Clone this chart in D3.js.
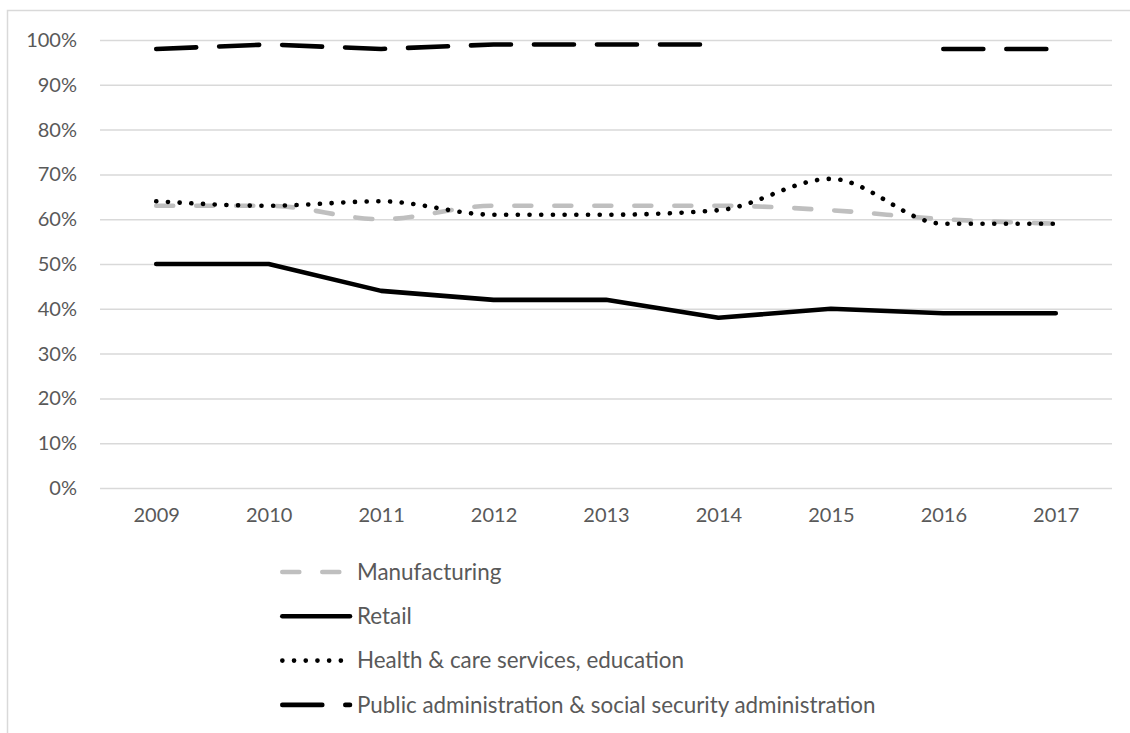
<!DOCTYPE html>
<html>
<head>
<meta charset="utf-8">
<script src="https://cdn.jsdelivr.net/npm/d3@7"></script>
<style>
  html, body { margin: 0; padding: 0; background: #ffffff; }
  svg { display: block; }
  text { font-family: Lato, "Noto Sans", sans-serif; fill: #595959; }
</style>
</head>
<body>
<svg id="chart" width="1130" height="733"></svg>
<script>
// Share of employees by sector, 2009–2017
const years = ["2009", "2010", "2011", "2012", "2013", "2014", "2015", "2016", "2017"];
const manufacturing = [63, 63, 60, 63, 63, 63, 62, 60, 59];
const retail = [50, 50, 44, 42, 42, 38, 40, 39, 39];
const health = [64, 63, 64, 61, 61, 62, 69, 59, 59];
const publicAdmin = [98, 99, 98, 99, 99, 99, null, 98, 98];
const yTicks = [0, 10, 20, 30, 40, 50, 60, 70, 80, 90, 100];
const seriesNames = [
  "Manufacturing",
  "Retail",
  "Health & care services, education",
  "Public administration & social security administration"
];

const svg = d3.select("#chart");

const plot = { left: 100, right: 1112, top: 40, bottom: 488 };

const x = d3.scalePoint().domain(years).range([plot.left, plot.right]).padding(0.5);
const y = d3.scaleLinear().domain([0, 100]).range([plot.bottom, plot.top]);

// outer chart-area frame
svg.append("rect")
  .attr("x", 7.5).attr("y", 10.5)
  .attr("width", 1300).attr("height", 900)
  .attr("fill", "none").attr("stroke", "#d9d9d9").attr("stroke-width", 1.5);

// y axis with gridlines
const yAxis = svg.append("g")
  .attr("transform", `translate(${plot.left},0)`)
  .call(d3.axisLeft(y).tickValues(yTicks).tickFormat(d => d + "%")
    .tickSize(-(plot.right - plot.left)).tickPadding(23));
yAxis.select(".domain").remove();
yAxis.selectAll(".tick line").attr("stroke", "#d9d9d9").attr("stroke-width", 1.5);
yAxis.selectAll(".tick text").attr("font-size", 20).style("fill", "#595959")
  .attr("font-family", "Lato, 'Noto Sans', sans-serif");

// x axis labels
const xAxis = svg.append("g")
  .attr("transform", `translate(0,${plot.bottom})`)
  .call(d3.axisBottom(x).tickSize(0).tickPadding(20));
xAxis.select(".domain").remove();
xAxis.selectAll(".tick text").attr("font-size", 20).style("fill", "#595959")
  .attr("font-family", "Lato, 'Noto Sans', sans-serif");

// series styling
const series = [
  { name: seriesNames[0], values: manufacturing, color: "#bfbfbf", dash: "17 23", curve: d3.curveMonotoneX },
  { name: seriesNames[1], values: retail, color: "#000000", dash: null, curve: d3.curveLinear },
  { name: seriesNames[2], values: health, color: "#000000", dash: "0.1 11.6", curve: d3.curveMonotoneX },
  { name: seriesNames[3], values: publicAdmin, color: "#000000", dash: "40 23", curve: d3.curveLinear }
];

const lineWidth = 4.6;

series.forEach(s => {
  const line = d3.line()
    .defined(d => d != null)
    .x((d, i) => x(years[i]))
    .y(d => y(d))
    .curve(s.curve);
  svg.append("path")
    .datum(s.values)
    .attr("d", line)
    .attr("fill", "none")
    .attr("stroke", s.color)
    .attr("stroke-width", lineWidth)
    .attr("stroke-linecap", "round")
    .attr("stroke-linejoin", "round")
    .attr("stroke-dasharray", s.dash);
});

// legend
const legend = svg.append("g");
series.forEach((s, i) => {
  const cy = 572 + i * 44.3;
  const g = legend.append("g").attr("transform", `translate(0,${cy})`);
  g.append("line")
    .attr("x1", 282.3).attr("x2", 350)
    .attr("y1", 0).attr("y2", 0)
    .attr("stroke", s.color)
    .attr("stroke-width", lineWidth)
    .attr("stroke-linecap", "round")
    .attr("stroke-dasharray", s.dash);
  g.append("text")
    .attr("x", 357)
    .attr("y", 0)
    .attr("dy", "0.35em")
    .attr("font-size", 22.4)
    .text(s.name);
});
</script>
</body>
</html>
